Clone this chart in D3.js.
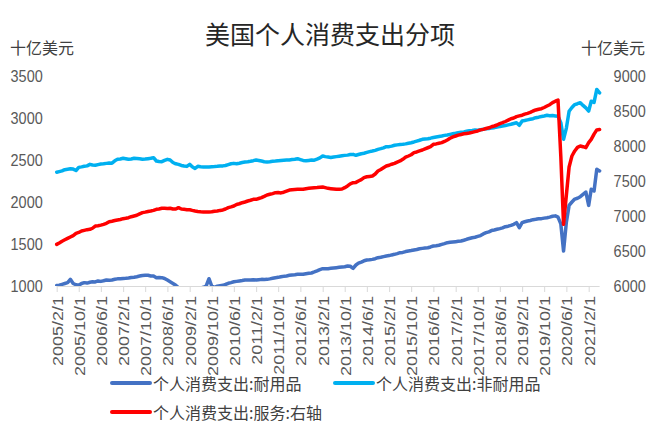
<!DOCTYPE html>
<html>
<head>
<meta charset="utf-8">
<script src="https://cdn.jsdelivr.net/npm/d3@7"></script>
<style>
  body { margin: 0; background: #fff; }
  svg { display: block; }
</style>
</head>
<body>
<svg id="chart" width="649" height="423"></svg>
<script>
// monthly data, first point 2005/2
const startMonth = "2005-02-01";

// 个人消费支出:耐用品 (left axis)
const durable = [
  1005, 1010, 1020, 1030, 1040, 1079, 1030, 1015, 1008, 1030, 1040, 1035,
  1045, 1050, 1048, 1060, 1055, 1062, 1071, 1068, 1072, 1080, 1085, 1087,
  1090, 1092, 1095, 1100, 1105, 1111, 1118, 1125, 1127, 1127, 1120, 1119,
  1099, 1102, 1099, 1090, 1070, 1050, 1030, 1008, 980, 960, 950, 945,
  960, 955, 962, 968, 975, 985, 1000, 1087, 1000, 985, 998, 1004,
  1008, 1018, 1032, 1040, 1050, 1055, 1060, 1065, 1071, 1070, 1071, 1075,
  1071, 1075, 1079, 1078, 1079, 1085, 1092, 1099, 1103, 1111, 1115, 1120,
  1127, 1132, 1135, 1139, 1140, 1139, 1145, 1151, 1155, 1167, 1180, 1195,
  1206, 1206, 1206, 1210, 1214, 1218, 1222, 1226, 1230, 1238, 1235, 1210,
  1250, 1272, 1285, 1300, 1310, 1312, 1317, 1325, 1337, 1342, 1350, 1357,
  1362, 1370, 1377, 1385, 1397, 1400, 1410, 1417, 1422, 1429, 1435, 1444,
  1448, 1452, 1456, 1465, 1476, 1480, 1485, 1496, 1505, 1516, 1520, 1524,
  1528, 1532, 1536, 1545, 1556, 1565, 1575, 1580, 1590, 1600, 1620, 1635,
  1645, 1660, 1667, 1675, 1683, 1692, 1706, 1712, 1722, 1735, 1754, 1694,
  1754, 1765, 1774, 1780, 1790, 1794, 1800, 1802, 1808, 1813, 1820, 1830,
  1835, 1820, 1740, 1417, 1760, 1960, 2000, 2035, 2045, 2063, 2090, 2119,
  1960, 2151, 2131, 2389, 2370
];

// 个人消费支出:非耐用品 (left axis)
const nonDurable = [
  2355, 2362, 2370, 2385, 2390, 2395, 2392, 2375, 2412, 2418, 2425, 2430,
  2448, 2440, 2437, 2445, 2452, 2455, 2460, 2465, 2462, 2490, 2508, 2512,
  2520, 2515, 2508, 2512, 2520, 2518, 2515, 2510, 2512, 2516, 2520, 2527,
  2488, 2482, 2480, 2495, 2508, 2500, 2470, 2455, 2448, 2435, 2429, 2424,
  2448, 2420, 2400, 2425, 2420, 2418, 2416, 2418, 2420, 2422, 2425, 2429,
  2430, 2435, 2445, 2455, 2460, 2455, 2462, 2470, 2476, 2480, 2485, 2492,
  2500, 2495, 2488, 2480, 2476, 2480, 2485, 2488, 2492, 2495, 2498, 2500,
  2500, 2505, 2510, 2516, 2505, 2495, 2490, 2495, 2500, 2498, 2510, 2525,
  2548, 2540, 2535, 2530, 2535, 2540, 2545, 2550, 2555, 2558, 2565, 2567,
  2556, 2565, 2575, 2580, 2590, 2600, 2607, 2615, 2627, 2635, 2645, 2659,
  2659, 2665, 2675, 2680, 2685, 2687, 2692, 2700, 2706, 2715, 2725, 2735,
  2746, 2750, 2754, 2760, 2768, 2774, 2780, 2786, 2793, 2798, 2805, 2812,
  2818, 2825, 2830, 2835, 2842, 2848, 2852, 2857, 2855, 2860, 2865, 2873,
  2875, 2880, 2885, 2893, 2898, 2905, 2910, 2918, 2925, 2935, 2944, 2913,
  2964, 2970, 2978, 2985, 2992, 3004, 3010, 3018, 3024, 3032, 3028, 3030,
  3025, 3020, 2945, 2746, 2880, 3080, 3125, 3160, 3170, 3182, 3150, 3120,
  3083, 3200, 3185, 3340, 3300
];

// 个人消费支出:服务 (right axis)
const services = [
  6595, 6615, 6640, 6660, 6680, 6700, 6720, 6752, 6765, 6786, 6795, 6805,
  6810, 6825, 6857, 6862, 6870, 6881, 6895, 6919, 6925, 6935, 6943, 6950,
  6962, 6968, 6976, 6990, 7000, 7010, 7030, 7048, 7055, 7065, 7071, 7080,
  7095, 7100, 7110, 7112, 7108, 7110, 7100, 7100, 7119, 7100, 7095, 7090,
  7090, 7080, 7071, 7065, 7060, 7057, 7058, 7057, 7060, 7068, 7071, 7080,
  7086, 7100, 7119, 7130, 7143, 7165, 7175, 7190, 7200, 7214, 7225, 7238,
  7238, 7250, 7262, 7280, 7300, 7310, 7320, 7333, 7335, 7330, 7340, 7355,
  7371, 7375, 7378, 7381, 7381, 7383, 7390, 7395, 7400, 7405, 7408, 7412,
  7414, 7405, 7395, 7390, 7385, 7381, 7381, 7385, 7405, 7430, 7460, 7476,
  7480, 7500, 7520, 7548, 7560, 7565, 7571, 7600, 7643, 7665, 7690, 7714,
  7725, 7740, 7752, 7770, 7786, 7810, 7840, 7857, 7875, 7905, 7915, 7930,
  7943, 7960, 7975, 7990, 8024, 8030, 8040, 8048, 8065, 8086, 8110, 8130,
  8143, 8155, 8165, 8175, 8180, 8185, 8195, 8205, 8215, 8230, 8238, 8250,
  8260, 8275, 8286, 8300, 8320, 8333, 8350, 8370, 8390, 8400, 8419, 8430,
  8440, 8455, 8467, 8480, 8500, 8515, 8525, 8533, 8550, 8571, 8590, 8619,
  8640, 8657, 7850, 6881, 7300, 7700, 7857, 7929, 7980, 8000, 7990, 7976,
  8048, 8095, 8170, 8230, 8235
];

const tickLabels = ["2005/2/1", "2005/10/1", "2006/6/1", "2007/2/1", "2007/10/1", "2008/6/1",
  "2009/2/1", "2009/10/1", "2010/6/1", "2011/2/1", "2011/10/1", "2012/6/1", "2013/2/1",
  "2013/10/1", "2014/6/1", "2015/2/1", "2015/10/1", "2016/6/1", "2017/2/1", "2017/10/1",
  "2018/6/1", "2019/2/1", "2019/10/1", "2020/6/1", "2021/2/1"];
const leftTicks = [1000, 1500, 2000, 2500, 3000, 3500];
const rightTicks = [6000, 6500, 7000, 7500, 8000, 8500, 9000];

const seriesNames = ["个人消费支出:耐用品", "个人消费支出:非耐用品", "个人消费支出:服务:右轴"];
const seriesColors = ["#4472C4", "#00B0F0", "#FF0000"];

const svg = d3.select("#chart");
const plotLeft = 56.7, plotRight = 599.6, plotTop = 76, plotBottom = 286;
const squeeze = 0.85;
const numFont = "'Liberation Sans', Arial, sans-serif";
const cjkFont = "'Noto Sans CJK SC', sans-serif";

const t0 = d3.isoParse(startMonth);
const dates = durable.map((v, i) => d3.timeMonth.offset(t0, i));
const parseLabel = d3.timeParse("%Y/%m/%d");

const xScale = d3.scaleTime().domain([dates[0], dates[dates.length - 1]]).range([plotLeft, plotRight]);
const yLeft = d3.scaleLinear().domain([1000, 3500]).range([plotBottom, plotTop]);
const yRight = d3.scaleLinear().domain([6000, 9000]).range([plotBottom, plotTop]);

// title and units
svg.append("text").attr("x", 330).attr("y", 33).attr("text-anchor", "middle").attr("dominant-baseline", "central")
  .style("font-family", cjkFont).style("font-size", "25px").attr("fill", "#262626").text("美国个人消费支出分项");
svg.append("text").attr("x", 10).attr("y", 47).attr("dominant-baseline", "central")
  .style("font-family", cjkFont).style("font-size", "16px").attr("fill", "#404040").text("十亿美元");
svg.append("text").attr("x", 645).attr("y", 47).attr("text-anchor", "end").attr("dominant-baseline", "central")
  .style("font-family", cjkFont).style("font-size", "16px").attr("fill", "#404040").text("十亿美元");

// x axis
const xAxisG = svg.append("g").attr("transform", "translate(0," + plotBottom + ")");
const xAxis = d3.axisBottom(xScale)
  .tickValues(tickLabels.map(s => parseLabel(s)))
  .tickSize(6).tickSizeOuter(0)
  .tickFormat((d, i) => tickLabels[i]);
xAxis(xAxisG);
xAxisG.select(".domain").attr("stroke", "#d9d9d9").attr("d", "M" + plotLeft + ",0.5H" + plotRight);
xAxisG.selectAll(".tick line").attr("stroke", "#d9d9d9");
xAxisG.selectAll(".tick text")
  .attr("x", 0).attr("y", 0).attr("dy", "0.35em")
  .attr("transform", "translate(0,10) scale(" + squeeze + ",1) rotate(-90)")
  .style("text-anchor", "end")
  .style("font-family", numFont).style("font-size", "18px").attr("fill", "#595959");

// left axis
const yLeftG = svg.append("g").attr("transform", "translate(" + plotLeft + ",0)");
d3.axisLeft(yLeft).tickValues(leftTicks).tickSize(0).tickFormat(d3.format("d"))(yLeftG);
yLeftG.select(".domain").remove();
yLeftG.selectAll(".tick text").attr("x", 0).attr("dy", "0.35em")
  .attr("transform", "translate(-14,0) scale(" + squeeze + ",1)")
  .style("font-family", numFont).style("font-size", "17px").attr("fill", "#595959");

// right axis
const yRightG = svg.append("g").attr("transform", "translate(" + plotRight + ",0)");
d3.axisRight(yRight).tickValues(rightTicks).tickSize(0).tickFormat(d3.format("d"))(yRightG);
yRightG.select(".domain").remove();
yRightG.selectAll(".tick text").attr("x", 0).attr("dy", "0.35em")
  .attr("transform", "translate(14,0) scale(" + squeeze + ",1)")
  .style("font-family", numFont).style("font-size", "17px").attr("fill", "#595959");

// lines
svg.append("clipPath").attr("id", "plotclip").append("rect")
  .attr("x", plotLeft - 5).attr("y", plotTop - 20).attr("width", plotRight - plotLeft + 10).attr("height", plotBottom - plotTop + 20);

const lineLeft = d3.line().x((d, i) => xScale(dates[i])).y(d => yLeft(d));
const lineRight = d3.line().x((d, i) => xScale(dates[i])).y(d => yRight(d));

const plot = svg.append("g").attr("clip-path", "url(#plotclip)");
[[durable, lineLeft], [nonDurable, lineLeft], [services, lineRight]].forEach(function(s, k) {
  plot.append("path").attr("d", s[1](s[0])).attr("fill", "none")
    .attr("stroke", seriesColors[k]).attr("stroke-width", 3.5)
    .attr("stroke-linejoin", "round").attr("stroke-linecap", "round");
});

// legend
const legendPos = [[112, 383], [335, 383], [112, 412]];
seriesNames.forEach(function(name, k) {
  const g = svg.append("g").attr("transform", "translate(" + legendPos[k][0] + "," + legendPos[k][1] + ")");
  g.append("line").attr("x1", 0).attr("x2", 38).attr("y1", 0).attr("y2", 0)
    .attr("stroke", seriesColors[k]).attr("stroke-width", 4).attr("stroke-linecap", "round");
  g.append("text").attr("x", 41).attr("y", 0).attr("dominant-baseline", "central")
    .style("font-family", cjkFont).style("font-size", "16px").attr("fill", "#404040").text(name);
});
</script>
</body>
</html>
